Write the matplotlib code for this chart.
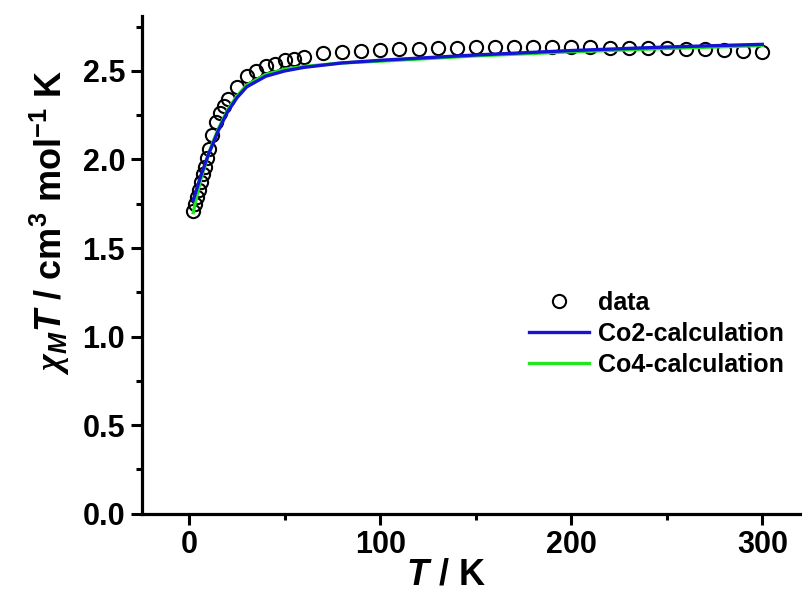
import numpy as np
import matplotlib
matplotlib.use("Agg")
import matplotlib.pyplot as plt
from matplotlib.ticker import MultipleLocator

# measured chi_M*T (cm3 mol-1 K) vs T (K)
T_data = [2, 3, 4, 5, 6, 7, 8, 9, 10, 12, 14, 16, 18, 20, 25, 30, 35, 40, 45, 50, 55, 60,
          70, 80, 90, 100, 110, 120, 130, 140, 150, 160, 170, 180, 190, 200,
          210, 220, 230, 240, 250, 260, 270, 280, 290, 300]
chiT_data = [1.71, 1.75, 1.79, 1.83, 1.87, 1.92, 1.96, 2.01, 2.06, 2.14, 2.21, 2.26, 2.30, 2.34,
             2.41, 2.47, 2.50, 2.53, 2.54, 2.56, 2.57, 2.58,
             2.60, 2.607, 2.613, 2.62, 2.622, 2.626, 2.63, 2.63, 2.635, 2.636, 2.637, 2.637,
             2.636, 2.636, 2.634, 2.632, 2.631, 2.63, 2.628, 2.625, 2.623, 2.62, 2.615, 2.604]

# calculated curves
T_calc = [2, 4, 6, 8, 10, 12, 15, 20, 25, 30, 40, 50, 60, 80, 100, 150, 200, 250, 300]
chiT_co2 = [1.77, 1.84, 1.91, 1.97, 2.03, 2.08, 2.16, 2.27, 2.35, 2.41, 2.47, 2.50, 2.52,
            2.545, 2.56, 2.59, 2.615, 2.635, 2.65]
chiT_co4 = [1.70, 1.80, 1.89, 1.96, 2.03, 2.09, 2.17, 2.28, 2.36, 2.42, 2.48, 2.51, 2.525,
            2.545, 2.555, 2.585, 2.608, 2.627, 2.643]

labels = ["data", "Co2-calculation", "Co4-calculation"]

plt.rcParams['font.family'] = ['Liberation Sans', 'DejaVu Sans']
plt.rcParams['font.weight'] = 'bold'
plt.rcParams['mathtext.fontset'] = 'custom'
plt.rcParams['mathtext.rm'] = 'Liberation Sans:bold'
plt.rcParams['mathtext.bf'] = 'Liberation Sans:bold'
plt.rcParams['mathtext.it'] = 'Liberation Sans:italic:bold'
plt.rcParams['mathtext.sf'] = 'Liberation Serif:italic'

fig = plt.figure(figsize=(8.02, 5.92), dpi=100)
ax = fig.add_axes([141.7/802, 78.3/592, 660.3/802, 497.7/592])

h_data, = ax.plot(T_data, chiT_data, 'o', mfc='none', mec='black', ms=9.5, mew=1.5,
                  zorder=2, label=labels[0])
h_co4, = ax.plot(T_calc, chiT_co4, '-', color='#1fe61f', lw=2.4, zorder=3, label=labels[2])
h_co2, = ax.plot(T_calc, chiT_co2, '-', color='#1414d2', lw=2.4, zorder=4, label=labels[1])

ax.set_xlim(-25, 320.8)
ax.set_ylim(0, 2.81)
ax.xaxis.set_major_locator(MultipleLocator(100))
ax.xaxis.set_minor_locator(MultipleLocator(50))
ax.yaxis.set_major_locator(MultipleLocator(0.5))
ax.yaxis.set_minor_locator(MultipleLocator(0.25))
ax.yaxis.set_major_formatter(plt.FormatStrFormatter('%.1f'))

for s in ['top', 'right']:
    ax.spines[s].set_visible(False)
for s in ['left', 'bottom']:
    ax.spines[s].set_linewidth(2.3)
ax.tick_params(which='major', direction='out', length=8, width=2.2, labelsize=22, pad=4)
ax.tick_params(which='minor', direction='out', length=4.5, width=2.2)

ax.set_xlabel(r'$T$ / K', fontsize=26, fontweight='bold')
ax.set_ylabel(r'$\mathsf{\chi}_M T$ / cm$^3$ mol$^{-1}$ K', fontsize=26, fontweight='bold')
ax.xaxis.set_label_coords(0.461, -0.088)
ax.yaxis.set_label_coords(-0.105, 0.586)

ax.legend(handles=[h_data, h_co2, h_co4], loc='upper left',
          bbox_to_anchor=(519/802, (592-281)/592), bbox_transform=fig.transFigure,
          frameon=False, fontsize=18, numpoints=1, handlelength=2.4,
          handletextpad=0.35, labelspacing=0.28, borderaxespad=0)

fig.savefig('out.png', dpi=100)
